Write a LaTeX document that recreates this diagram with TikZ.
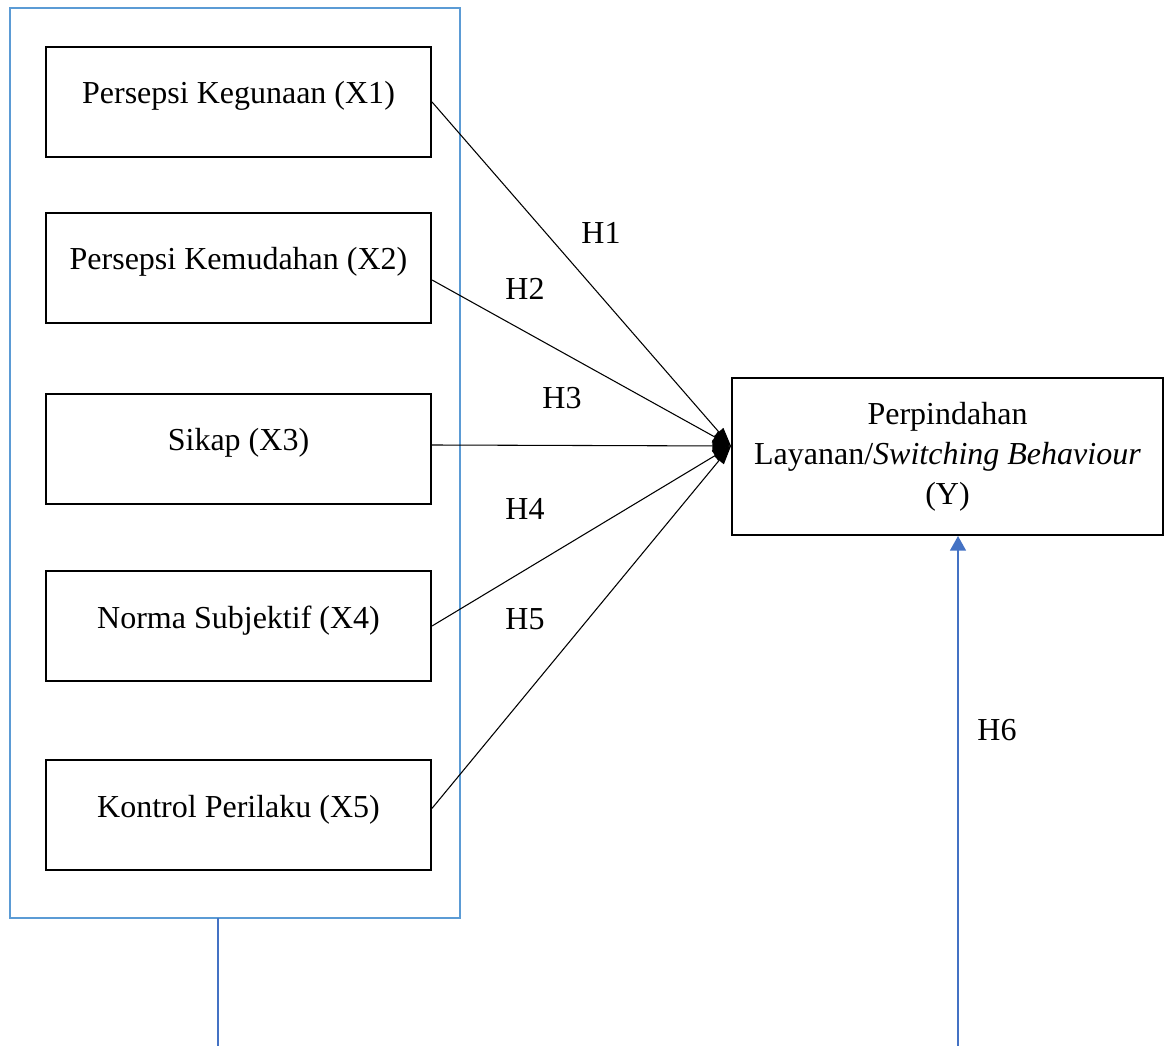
\documentclass[tikz,border=0pt]{standalone}
\usepackage{fontspec}
\setmainfont{Liberation Serif}
\usetikzlibrary{arrows.meta}
\definecolor{frameblue}{HTML}{5B9BD5}
\definecolor{lineblue}{HTML}{4472C4}
\begin{document}
\begin{tikzpicture}[x=0.375pt, y=-0.375pt,
    font=\fontsize{12}{15}\selectfont,
    varbox/.style={draw, line width=0.75pt, minimum width=144.4pt, minimum height=41.25pt, inner sep=0pt, text height=8pt, text depth=6.5pt},
    path/.style={line width=0.4pt, -{Triangle[length=7pt,width=4.5pt]}},
    hyp/.style={inner sep=0pt}]
    \useasboundingbox (0,0) rectangle (1171,1046);

    % Independent variables
    \draw[frameblue, line width=1.1pt] (10,8) rectangle (460,918);
    \node[varbox] (x1) at (238.5,102) {Persepsi Kegunaan (X1)};
    \node[varbox] (x2) at (238.5,268) {Persepsi Kemudahan (X2)};
    \node[varbox] (x3) at (238.5,449) {Sikap (X3)};
    \node[varbox] (x4) at (238.5,626) {Norma Subjektif (X4)};
    \node[varbox] (x5) at (238.5,815) {Kontrol Perilaku (X5)};

    % Dependent variable
    \node[draw, line width=0.75pt, minimum width=161.6pt, minimum height=58.9pt, inner sep=0pt, align=center] (y) at (947.5,456.5)
        {Perpindahan\\Layanan/\textit{Switching Behaviour}\\(Y)};
    \coordinate (yin) at (731,446);

    % Hypotheses
    \draw[path] (x1.east) -- (yin);
    \draw[path] ([yshift=-4.5pt]x2.east) -- (yin);
    \draw[path] ([yshift=1.5pt]x3.east) -- (yin);
    \draw[path] (x4.east) -- (yin);
    \draw[path] ([yshift=2.5pt]x5.east) -- (yin);
    \node[hyp] (h1) at (601,233) {H1};
    \node[hyp] (h2) at (525,289) {H2};
    \node[hyp] (h3) at (562,398) {H3};
    \node[hyp] (h4) at (525,509) {H4};
    \node[hyp] (h5) at (525,619) {H5};
    \node[hyp] (h6) at (997,730) {H6};

    % Simultaneous effect
    \coordinate (xs) at (218,1046);
    \coordinate (ys) at (958,1046);
    \draw[lineblue, line width=0.6pt] (218,918) -- (xs);
    \draw[lineblue, line width=0.6pt, -{Triangle[length=5.5pt,width=6pt]}] (ys) -- (y.south -| ys);
\end{tikzpicture}
\end{document}
